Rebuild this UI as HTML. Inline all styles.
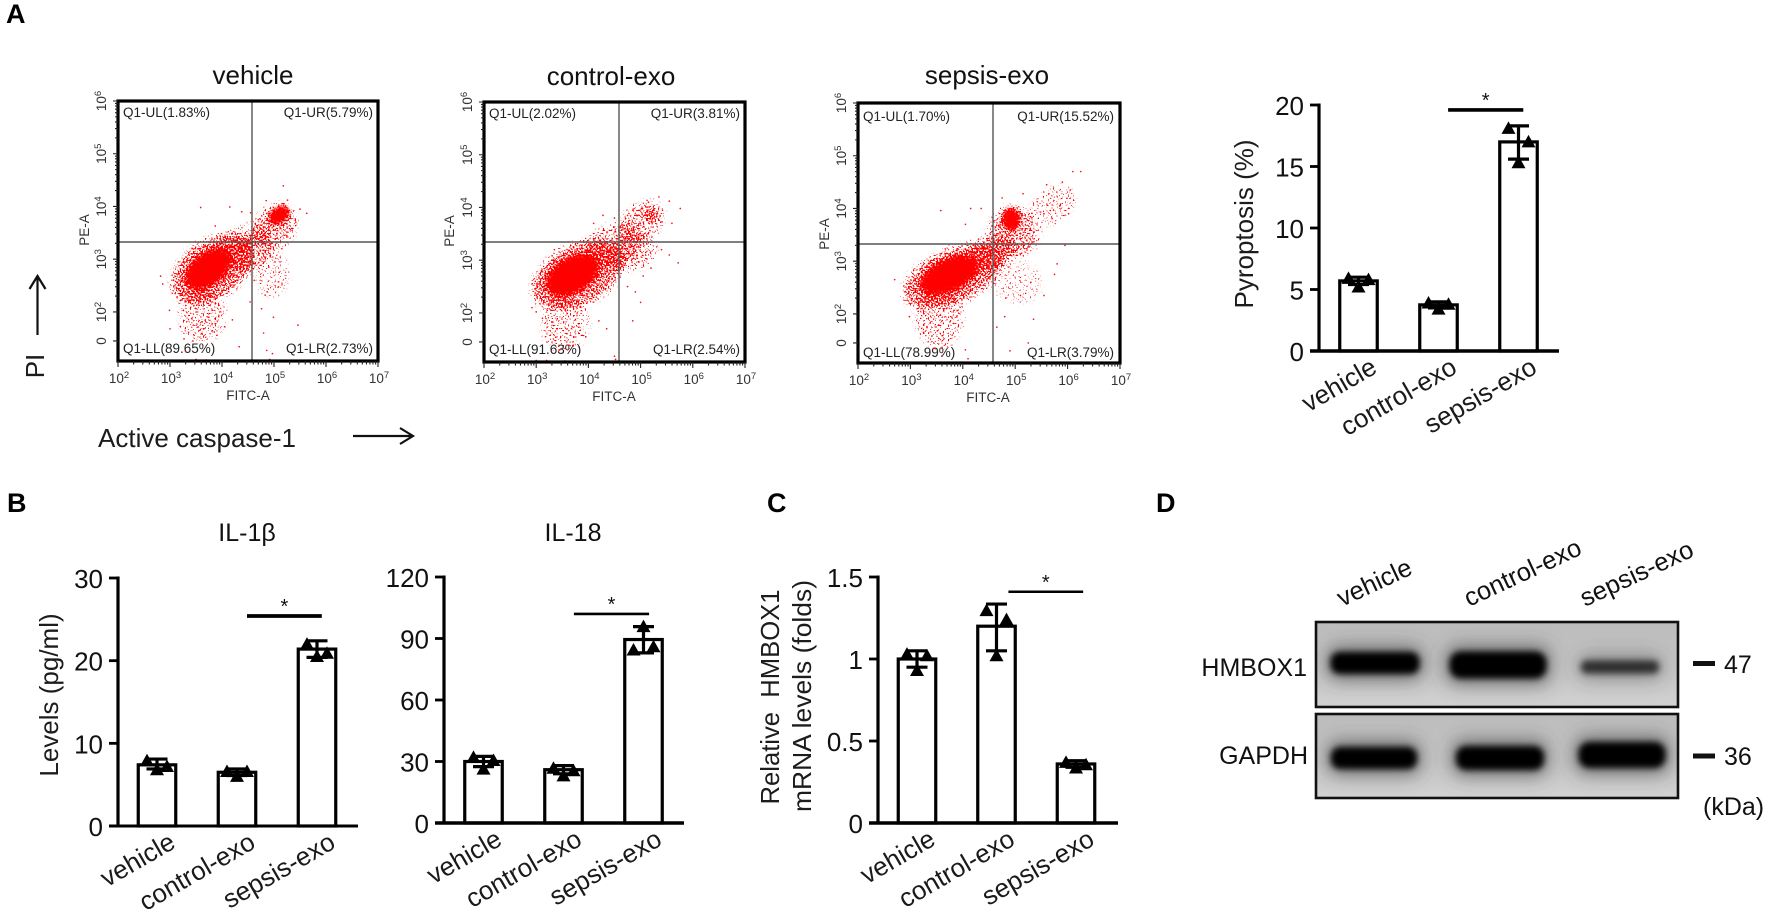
<!DOCTYPE html>
<html lang="en">
<head>
<meta charset="utf-8">
<title>Sepsis exosome figure</title>
<style>
html,body{margin:0;padding:0;background:#fff;}
svg{display:block;font-family:"Liberation Sans",Arial,sans-serif;fill:#111;}
.title{font-size:26px;text-anchor:middle;}
.panel{font-size:27px;font-weight:bold;fill:#000;}
.quad{font-size:13.5px;fill:#222;}
.axs{font-size:13.5px;fill:#333;}
.lab{font-size:26px;fill:#1c1c1c;}
.blot{font-size:25px;fill:#111;}
</style>
</head>
<body>
<svg id="figure" xmlns="http://www.w3.org/2000/svg" width="1772" height="909" viewBox="0 0 1772 909">
<defs>
<filter id="speckle" filterUnits="userSpaceOnUse" x="0" y="60" width="1200" height="340" color-interpolation-filters="sRGB">
  <feGaussianBlur in="SourceAlpha" stdDeviation="3" result="soft"/>
  <feTurbulence type="fractalNoise" baseFrequency="0.6" numOctaves="1" seed="7" result="turb"/>
  <feColorMatrix in="turb" type="matrix" values="0 0 0 0 0  0 0 0 0 0  0 0 0 0 0  2.8 0 0 0 -0.9" result="noise"/>
  <feComposite in="soft" in2="noise" operator="arithmetic" k1="0" k2="1" k3="1" k4="-1" result="mix"/>
  <feComponentTransfer in="mix" result="hard"><feFuncA type="linear" slope="14" intercept="0"/></feComponentTransfer>
  <feFlood flood-color="#ff0000" result="red"/>
  <feComposite in="red" in2="hard" operator="in" result="dots"/>
  <feGaussianBlur in="dots" stdDeviation="0.35"/>
</filter>
<filter id="coreBlur" filterUnits="userSpaceOnUse" x="0" y="60" width="1200" height="340"><feGaussianBlur stdDeviation="2"/></filter>
<filter id="bandBlur" x="-30%" y="-100%" width="160%" height="300%"><feGaussianBlur stdDeviation="3.2"/></filter>
<filter id="haloBlur" x="-30%" y="-150%" width="160%" height="400%"><feGaussianBlur stdDeviation="9"/></filter>
<linearGradient id="blotBg" x1="0" y1="0" x2="0" y2="1"><stop offset="0" stop-color="#bcbcbc"/><stop offset="0.6" stop-color="#c6c6c6"/><stop offset="1" stop-color="#d2d2d2"/></linearGradient>
<clipPath id="clipBlot1"><rect x="1316" y="622" width="362" height="85"/></clipPath>
<clipPath id="clipBlot2"><rect x="1316" y="714" width="362" height="84"/></clipPath>
</defs>

<text class="panel" x="6" y="23">A</text>
<text class="panel" x="7" y="512">B</text>
<text class="panel" x="767" y="512">C</text>
<text class="panel" x="1156" y="512">D</text>

<g id="flow-vehicle">
  <text class="title" x="253" y="84">vehicle</text>
  <text class="quad" x="123" y="117">Q1-UL(1.83%)</text>
  <text class="quad" x="373" y="117" text-anchor="end">Q1-UR(5.79%)</text>
  <text class="quad" x="123" y="353">Q1-LL(89.65%)</text>
  <text class="quad" x="373" y="353" text-anchor="end">Q1-LR(2.73%)</text>
  <text class="axs" x="248" y="400" text-anchor="middle">FITC-A</text>
  <text class="axs" transform="translate(89 230) rotate(-90)" text-anchor="middle">PE-A</text>
</g>
<g id="flow-control">
  <text class="title" x="611" y="85">control-exo</text>
  <text class="quad" x="489" y="118">Q1-UL(2.02%)</text>
  <text class="quad" x="740" y="118" text-anchor="end">Q1-UR(3.81%)</text>
  <text class="quad" x="489" y="354">Q1-LL(91.63%)</text>
  <text class="quad" x="740" y="354" text-anchor="end">Q1-LR(2.54%)</text>
  <text class="axs" x="614" y="401" text-anchor="middle">FITC-A</text>
  <text class="axs" transform="translate(454 231) rotate(-90)" text-anchor="middle">PE-A</text>
</g>
<g id="flow-sepsis">
  <text class="title" x="987" y="84">sepsis-exo</text>
  <text class="quad" x="863" y="121">Q1-UL(1.70%)</text>
  <text class="quad" x="1114" y="121" text-anchor="end">Q1-UR(15.52%)</text>
  <text class="quad" x="863" y="357">Q1-LL(78.99%)</text>
  <text class="quad" x="1114" y="357" text-anchor="end">Q1-LR(3.79%)</text>
  <text class="axs" x="988" y="402" text-anchor="middle">FITC-A</text>
  <text class="axs" transform="translate(829 234) rotate(-90)" text-anchor="middle">PE-A</text>
</g>

<text class="lab" transform="translate(44 366) rotate(-90)" text-anchor="middle">PI</text>
<path d="M37.5 335V276M29.5 289L37.5 276L45.5 289" fill="none" stroke="#111" stroke-width="2.2"/>
<text class="lab" x="98" y="447">Active caspase-1</text>
<path d="M353 436H413M400 428L413 436L400 444" fill="none" stroke="#111" stroke-width="2.2"/>

<g id="chart-pyroptosis">
  <text class="lab" transform="translate(1253 224) rotate(-90)" text-anchor="middle">Pyroptosis (%)</text>
</g>
<g id="chart-il1b">
  <text class="title" x="247" y="541" style="font-size:25px">IL-1β</text>
  <text class="lab" transform="translate(58 695) rotate(-90)" text-anchor="middle">Levels (pg/ml)</text>
</g>
<g id="chart-il18">
  <text class="title" x="573" y="541" style="font-size:25px">IL-18</text>
</g>
<g id="chart-hmbox">
  <text class="lab" transform="translate(779 697) rotate(-90)" text-anchor="middle" textLength="215" lengthAdjust="spacingAndGlyphs" xml:space="preserve">Relative  HMBOX1</text>
  <text class="lab" transform="translate(811 696) rotate(-90)" text-anchor="middle" textLength="232" lengthAdjust="spacingAndGlyphs">mRNA levels (folds)</text>
</g>

<g id="blot">
  <text class="blot" transform="translate(1342 607) rotate(-25)" style="font-size:25.500px">vehicle</text>
  <text class="blot" transform="translate(1469 607) rotate(-25)" style="font-size:25.500px">control-exo</text>
  <text class="blot" transform="translate(1585 607) rotate(-25)" style="font-size:25.500px">sepsis-exo</text>
  <rect x="1316" y="622" width="362" height="85" fill="url(#blotBg)"/>
  <rect x="1316" y="714" width="362" height="84" fill="url(#blotBg)"/>
  <g id="bands-top" clip-path="url(#clipBlot1)"></g>
  <g id="bands-bottom" clip-path="url(#clipBlot2)"></g>
  <rect x="1316" y="622" width="362" height="85" fill="none" stroke="#111" stroke-width="2.6"/>
  <rect x="1316" y="714" width="362" height="84" fill="none" stroke="#111" stroke-width="2.6"/>
  <text class="blot" x="1307" y="676" text-anchor="end">HMBOX1</text>
  <text class="blot" x="1308" y="764" text-anchor="end">GAPDH</text>
  <rect x="1693" y="661" width="22" height="5" fill="#111"/>
  <rect x="1693" y="753.500" width="22" height="5" fill="#111"/>
  <text class="blot" x="1724" y="673">47</text>
  <text class="blot" x="1724" y="765">36</text>
  <text class="blot" x="1703" y="815">(kDa)</text>
</g>
</svg>

<script>
/* ---------- bar chart data ---------- */
const barCategories = ['vehicle', 'control-exo', 'sepsis-exo'];

const pyroptosisMeans = [5.7, 3.75, 17.0];
const pyroptosisErrLow = [5.4, 3.5, 15.6];
const pyroptosisErrHigh = [6.0, 4.0, 18.3];
const pyroptosisPoints = [[5.9, 5.8, 5.2], [3.9, 3.8, 3.4], [18.1, 17.0, 15.3]];
const pyroptosisTicks = [0, 5, 10, 15, 20];

const il1bMeans = [7.4, 6.5, 21.4];
const il1bErrLow = [6.9, 6.1, 20.4];
const il1bErrHigh = [8.1, 6.9, 22.4];
const il1bPoints = [[7.9, 7.2, 6.8], [6.6, 6.6, 6.0], [22.0, 20.9, 20.5]];
const il1bTicks = [0, 10, 20, 30];

const il18Means = [30, 26, 89.5];
const il18ErrLow = [27.5, 24, 83];
const il18ErrHigh = [32.5, 28, 95.8];
const il18Points = [[32, 30.5, 26.3], [26.7, 25.5, 23], [84.4, 86, 95.8]];
const il18Ticks = [0, 30, 60, 90, 120];

const hmboxMeans = [1.0, 1.2, 0.36];
const hmboxErrLow = [0.95, 1.05, 0.34];
const hmboxErrHigh = [1.05, 1.335, 0.38];
const hmboxPoints = [[1.03, 1.02, 0.93], [1.295, 1.24, 1.02], [0.37, 0.355, 0.335]];
const hmboxTicks = [0, 0.5, 1, 1.5];

/* ---------- flow cytometry data: log10 axis values ---------- */
const decadeExponents = [2, 3, 4, 5, 6, 7];
const yDecadeExponents = [2, 3, 4, 5, 6];

/* clusters: centre logX, centre logY, spread logX, spread logY, tilt deg, density */
const vehicleClusters = [
  [3.74, 2.82, 0.52, 0.30, -38, 1.0],
  [3.82, 2.82, 0.88, 0.54, -35, 0.5],
  [4.55, 3.12, 0.46, 0.32, -30, 0.36],
  [4.45, 3.40, 0.55, 0.22, -20, 0.26],
  [3.62, 1.95, 0.42, 0.52, 0, 0.24],
  [5.10, 3.84, 0.22, 0.14, -40, 0.95],
  [5.02, 3.62, 0.44, 0.36, -45, 0.34],
  [4.95, 2.72, 0.32, 0.42, 0, 0.13]
];
const controlClusters = [
  [3.70, 2.72, 0.56, 0.33, -30, 1.0],
  [3.80, 2.72, 0.94, 0.56, -28, 0.5],
  [4.50, 3.28, 0.55, 0.40, -25, 0.32],
  [4.85, 3.15, 0.45, 0.32, -20, 0.26],
  [3.55, 1.80, 0.44, 0.50, 0, 0.22],
  [5.02, 3.72, 0.46, 0.32, -40, 0.32],
  [5.20, 3.85, 0.12, 0.11, -45, 0.55]
];
const sepsisClusters = [
  [3.75, 2.74, 0.60, 0.30, -24, 1.0],
  [3.82, 2.72, 1.02, 0.50, -24, 0.5],
  [4.55, 3.15, 0.45, 0.32, -25, 0.38],
  [3.55, 1.95, 0.44, 0.58, 0, 0.25],
  [4.92, 3.80, 0.16, 0.21, 0, 1.0],
  [4.98, 3.55, 0.46, 0.48, -30, 0.38],
  [5.70, 4.05, 0.46, 0.30, -35, 0.17],
  [5.05, 2.60, 0.45, 0.38, 0, 0.1]
];

/* single events: [logX, logY] */
const vehicleEvents = [[2.82,2.68],[2.86,2.53],[3.59,3.98],[4.15,3.99],[3.87,3.63],[5.18,4.39],[5.26,4.12],[4.85,4.11],[5.63,3.87],[5.46,1.75],
  [4.83,2.32],[5.08,2.47],[4.54,2.19],[4.76,2.06],[4.99,1.90],[4.86,1.27],[4.97,1.21],[4.33,1.34],[3.27,1.49],[3.00,1.68],[2.99,2.03],[3.10,2.35],
  [3.20,1.72],[3.44,1.45],[3.62,1.58],[3.85,1.62],[4.05,1.72],[4.20,1.85],[3.30,1.25],[3.50,1.10],[3.70,1.09],[3.95,1.08],[4.15,1.07],[3.15,1.08],
  [5.50,3.95],[5.42,3.70],[5.35,3.55],[5.15,3.20],[5.02,2.95],[4.70,3.75],[4.38,3.90],[4.55,3.88],[4.62,2.60],[4.90,2.85],[5.10,2.75],[4.80,1.60],[4.92,1.10],[4.70,1.08]];
const controlEvents = [[2.92,2.10],[3.00,2.02],[3.12,1.90],[3.18,1.55],[3.45,1.30],[3.70,1.38],[3.95,1.55],[4.20,1.85],[4.35,1.70],[4.50,1.18],[4.52,1.12],
  [3.35,3.20],[4.00,3.38],[4.10,3.70],[4.28,3.85],[4.50,3.80],[4.62,3.62],[4.75,3.85],[5.35,4.20],[5.55,4.12],[5.42,3.95],[5.60,3.70],[5.76,3.98],[5.72,2.95],
  [5.20,2.85],[5.05,2.70],[4.90,2.40],[5.00,2.20],[4.75,2.50],[4.85,1.85],[4.60,3.00],[5.40,3.20],[5.55,3.10],[3.00,1.10],[3.20,1.10],[3.55,1.09],[3.90,1.08],[4.10,1.08],[2.85,1.08],[3.05,2.55],[3.10,2.80],[4.85,3.95],[5.15,4.10]];
const sepsisEvents = [[2.70,2.65],[3.00,2.58],[2.98,2.20],[3.15,2.05],[2.98,1.95],[3.25,1.65],[3.45,1.35],[3.60,1.20],[3.80,1.60],[4.05,1.32],[4.10,1.15],
  [3.58,3.96],[4.05,3.70],[4.15,4.00],[4.35,4.00],[4.30,3.42],[4.62,3.65],[4.75,4.20],[5.15,4.28],[5.60,4.45],[5.90,4.50],[6.10,4.70],[6.25,4.70],[6.05,4.35],[5.85,4.05],[5.55,3.90],
  [6.02,3.90],[5.95,3.30],[5.80,2.95],[5.75,2.75],[5.55,2.35],[5.30,2.60],[5.10,2.35],[4.82,2.30],[4.80,1.95],[4.65,1.75],[4.90,1.30],[5.35,1.90],[5.25,1.45],[4.30,1.08],[4.50,1.08],[3.30,1.08],[3.50,1.08],[3.95,1.08],[5.20,1.08],[5.70,1.08]];

/* blot bands: lane centre, half width, band height, vertical centre, darkness */
const hmboxBandCenters = [1375, 1498, 1620];
const hmboxBandWidths = [89, 97, 78];
const hmboxBandHeights = [22, 27, 13];
const hmboxBandY = [663, 665, 667];
const hmboxBandDark = [1, 1, 0.68];
const gapdhBandCenters = [1374, 1500, 1622];
const gapdhBandWidths = [86, 88, 87];
const gapdhBandHeights = [22, 24, 26];
const gapdhBandY = [758, 758, 755];
const gapdhBandDark = [1, 1, 1];

/* ---------- helpers ---------- */
const NS = 'http://www.w3.org/2000/svg';
function make(tag, attrs, parent) {
  const node = document.createElementNS(NS, tag);
  for (const key in attrs) node.setAttribute(key, attrs[key]);
  parent.appendChild(node);
  return node;
}
function triangle(cx, cy) {
  return (cx - 7) + ',' + (cy + 5.5) + ' ' + (cx + 7) + ',' + (cy + 5.5) + ' ' + cx + ',' + (cy - 7);
}

/* ---------- bar charts ---------- */
function drawBarChart(id, means, errLow, errHigh, points, ticks, opt) {
  const root = document.getElementById(id);
  const yScale = v => opt.y0 - v / opt.yMax * (opt.y0 - opt.yTop);
  const xScale = i => opt.x0 + i * opt.step;
  const barW = 37.5;

  means.forEach((m, i) => {
    const bar = make('rect', { x: xScale(i) - barW / 2, y: yScale(m), width: barW, height: opt.y0 - yScale(m), fill: '#fff', stroke: '#000', 'stroke-width': 3.2 }, root);
    
    
  });

  means.forEach((m, i) => {
    const whisker = make('path', {
      d: 'M' + xScale(i) + ' ' + yScale(errHigh[i]) + 'V' + yScale(errLow[i]) +
         'M' + (xScale(i) - 10.5) + ' ' + yScale(errHigh[i]) + 'H' + (xScale(i) + 10.5) +
         'M' + (xScale(i) - 10.5) + ' ' + yScale(errLow[i]) + 'H' + (xScale(i) + 10.5),
      fill: 'none', stroke: '#000', 'stroke-width': 3.2
    }, root);
    
    
    const offsets = [-10, 10, 0];
    points[i].forEach((v, j) => {
      const mark = make('polygon', { points: triangle(xScale(i) + offsets[j], yScale(v)), fill: '#000' }, root);
      
      
    });
  });

  const yAxis = make('line', { x1: opt.axisX, x2: opt.axisX, y1: yScale(opt.yMax) - 1.5, y2: opt.y0 + 1.5, stroke: '#000', 'stroke-width': 3.2 }, root);
  
  
  const xAxis = make('line', { x1: opt.axisX - 9, x2: opt.axisEnd, y1: opt.y0, y2: opt.y0, stroke: '#000', 'stroke-width': opt.xAxisWidth }, root);
  
  

  ticks.forEach(t => {
    const tick = make('line', { x1: opt.axisX - 9, x2: opt.axisX, y1: yScale(t), y2: yScale(t), stroke: '#000', 'stroke-width': 2.8 }, root);
    
    
    const label = make('text', { x: opt.axisX - 15, y: yScale(t) + 10, 'text-anchor': 'end', 'font-size': 26, fill: '#111' }, root);
    label.textContent = String(t);
    
    
  });

  barCategories.forEach((c, i) => {
    const px = xScale(i) + 20;
    const py = opt.y0 + 21;
    const label = make('text', { transform: 'translate(' + px + ' ' + py + ') rotate(-30)', 'text-anchor': 'end', 'font-size': 26, fill: '#1a1a1a' }, root);
    label.textContent = c;
    
    
  });

  const sig = make('line', { x1: xScale(opt.sigFrom), x2: xScale(opt.sigTo), y1: yScale(opt.sigAt), y2: yScale(opt.sigAt), stroke: '#000', 'stroke-width': opt.sigWidth }, root);
  
  
  const star = make('text', { x: (xScale(opt.sigFrom) + xScale(opt.sigTo)) / 2, y: yScale(opt.sigAt) - 3, 'text-anchor': 'middle', 'font-size': 20, fill: '#111' }, root);
  star.textContent = '*';
  
  
}

drawBarChart('chart-pyroptosis', pyroptosisMeans, pyroptosisErrLow, pyroptosisErrHigh, pyroptosisPoints, pyroptosisTicks,
  { axisX: 1319, axisEnd: 1559, y0: 351, yTop: 105, yMax: 20, x0: 1358.5, step: 80, sigFrom: 1.12, sigTo: 2.06, sigAt: 19.6, sigWidth: 3.6, xAxisWidth: 3.4 });
drawBarChart('chart-il1b', il1bMeans, il1bErrLow, il1bErrHigh, il1bPoints, il1bTicks,
  { axisX: 118, axisEnd: 358, y0: 826, yTop: 578, yMax: 30, x0: 157, step: 80, sigFrom: 1.125, sigTo: 2.06, sigAt: 25.4, sigWidth: 3.8, xAxisWidth: 3 });
drawBarChart('chart-il18', il18Means, il18ErrLow, il18ErrHigh, il18Points, il18Ticks,
  { axisX: 444, axisEnd: 684, y0: 823, yTop: 577, yMax: 120, x0: 483.5, step: 80, sigFrom: 1.13, sigTo: 2.07, sigAt: 102, sigWidth: 2.6, xAxisWidth: 3.6 });
drawBarChart('chart-hmbox', hmboxMeans, hmboxErrLow, hmboxErrHigh, hmboxPoints, hmboxTicks,
  { axisX: 878, axisEnd: 1118, y0: 823, yTop: 577, yMax: 1.5, x0: 917, step: 79.5, sigFrom: 1.15, sigTo: 2.09, sigAt: 1.41, sigWidth: 2.6, xAxisWidth: 3.6 });

/* ---------- flow cytometry plots ---------- */
function drawFlowPlot(id, clusters, events, box) {
  const root = document.getElementById(id);
  const sx = (box.right - box.left) / 5;
  const sy = (box.bottom - box.top) / (6 - 1.07);
  const xScale = v => box.left + (v - 2) * sx;
  const yScale = v => box.top + (6 - v) * sy;

  const cloud = make('g', { filter: 'url(#speckle)' }, root);
  
  
  clusters.forEach(c => {
    const blob = make('ellipse', {
      cx: xScale(c[0]), cy: yScale(c[1]), rx: c[2] * sx, ry: c[3] * sy,
      transform: 'rotate(' + c[4] + ' ' + xScale(c[0]) + ' ' + yScale(c[1]) + ')',
      fill: '#f00', 'fill-opacity': c[5]
    }, cloud);
    
    
  });
  const solid = make('g', { filter: 'url(#coreBlur)' }, root);
  
  
  clusters.filter(c => c[5] >= 0.9).forEach(c => {
    const core = make('ellipse', {
      cx: xScale(c[0]), cy: yScale(c[1]), rx: c[2] * sx * 0.92, ry: c[3] * sy * 0.92,
      transform: 'rotate(' + c[4] + ' ' + xScale(c[0]) + ' ' + yScale(c[1]) + ')',
      fill: '#f00'
    }, solid);
    
    
  });
  events.forEach(e => {
    const dot = make('circle', { cx: xScale(e[0]), cy: yScale(e[1]), r: 0.85, fill: '#ff1010' }, root);
    
    
  });

  const gateV = make('line', { x1: box.gateX, x2: box.gateX, y1: box.top, y2: box.bottom, stroke: '#555', 'stroke-width': 1.4 }, root);
  
  
  const gateH = make('line', { x1: box.left, x2: box.right, y1: box.gateY, y2: box.gateY, stroke: '#555', 'stroke-width': 1.4 }, root);
  
  

  const frame = make('rect', { x: box.left, y: box.top, width: box.right - box.left, height: box.bottom - box.top, fill: 'none', stroke: '#000', 'stroke-width': 3.2 }, root);
  
  

  let tickPath = '';
  decadeExponents.forEach((d, n) => {
    tickPath += 'M' + xScale(d) + ' ' + box.bottom + 'v6';
    if (n < decadeExponents.length - 1) {
      [2, 3, 4, 5, 6, 7, 8, 9].forEach(k => { tickPath += 'M' + xScale(d + Math.log10(k)) + ' ' + box.bottom + 'v3.5'; });
    }
  });
  yDecadeExponents.forEach((d, n) => {
    tickPath += 'M' + box.left + ' ' + yScale(d) + 'h-5';
    if (n < yDecadeExponents.length - 1) {
      [2, 3, 4, 5, 6, 7, 8, 9].forEach(k => { tickPath += 'M' + box.left + ' ' + yScale(d + Math.log10(k)) + 'h-3'; });
    }
  });
  tickPath += 'M' + box.left + ' ' + yScale(1.45) + 'h-5';
  const ticks = make('path', { d: tickPath, fill: 'none', stroke: '#222', 'stroke-width': 1.1 }, root);
  
  

  decadeExponents.forEach(d => {
    const label = make('text', { x: xScale(d) + 1, y: box.bottom + 22, 'text-anchor': 'middle', 'font-size': 13.5, fill: '#333' }, root);
    label.textContent = '10';
    const sup = make('tspan', { dy: -5, 'font-size': 9.5 }, label);
    sup.textContent = String(d);
    
    
  });
  yDecadeExponents.forEach(d => {
    const label = make('text', { transform: 'translate(' + (box.left - 12) + ' ' + yScale(d) + ') rotate(-90)', 'text-anchor': 'middle', 'font-size': 13.5, fill: '#333' }, root);
    label.textContent = '10';
    const sup = make('tspan', { dy: -5, 'font-size': 9.5 }, label);
    sup.textContent = String(d);
    
    
  });
  const zero = make('text', { transform: 'translate(' + (box.left - 12) + ' ' + yScale(1.45) + ') rotate(-90)', 'text-anchor': 'middle', 'font-size': 13.5, fill: '#333' }, root);
  zero.textContent = '0';
  
  
}

drawFlowPlot('flow-vehicle', vehicleClusters, vehicleEvents, { left: 118, right: 378, top: 101, bottom: 361, gateX: 252, gateY: 242 });
drawFlowPlot('flow-control', controlClusters, controlEvents, { left: 484, right: 745, top: 102, bottom: 362, gateX: 619, gateY: 242 });
drawFlowPlot('flow-sepsis', sepsisClusters, sepsisEvents, { left: 858, right: 1120, top: 103, bottom: 363, gateX: 993, gateY: 244 });

/* ---------- western blot bands ---------- */
function drawBands(id, centers, widths, heights, ys, dark) {
  const root = document.getElementById(id);
  centers.forEach((c, i) => {
    const halo = make('rect', { x: c - widths[i] / 2 - 4, y: ys[i] - heights[i] / 2 - 6, width: widths[i] + 8, height: heights[i] + 12, rx: 12, fill: '#444', 'fill-opacity': 0.65 * dark[i] }, root);
    halo.setAttribute('filter', 'url(#haloBlur)');
    
    
    const band = make('rect', { x: c - widths[i] / 2, y: ys[i] - heights[i] / 2, width: widths[i], height: heights[i], rx: heights[i] / 2.4, fill: '#000', 'fill-opacity': dark[i] }, root);
    band.setAttribute('filter', 'url(#bandBlur)');
    
    
  });
}
drawBands('bands-top', hmboxBandCenters, hmboxBandWidths, hmboxBandHeights, hmboxBandY, hmboxBandDark);
drawBands('bands-bottom', gapdhBandCenters, gapdhBandWidths, gapdhBandHeights, gapdhBandY, gapdhBandDark);
</script>
</body>
</html>
